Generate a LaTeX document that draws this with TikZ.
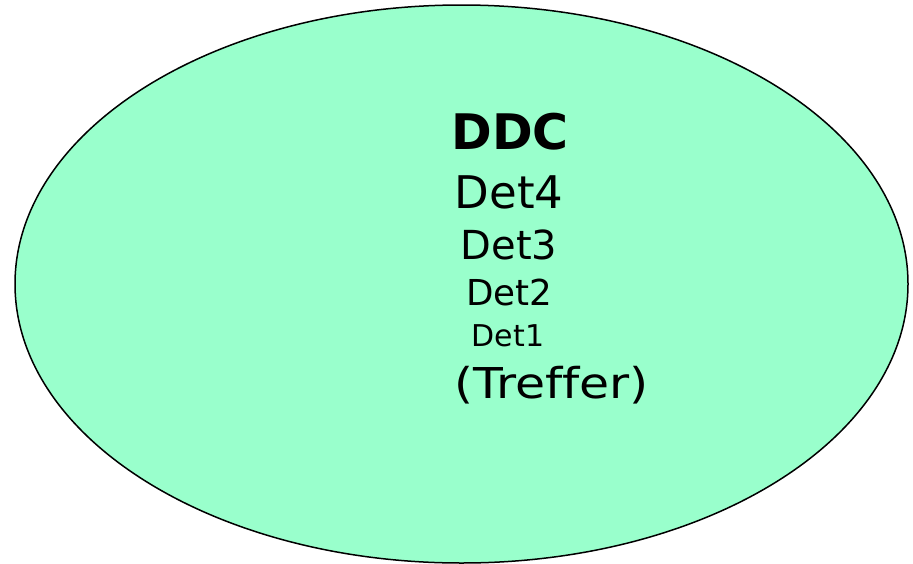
\documentclass[tikz,border=0pt]{standalone}
\usepackage{fontspec}
\usepackage{graphicx}
\usetikzlibrary{shapes.geometric}
\setmainfont{DejaVu Sans}[Ligatures=NoCommon]
\definecolor{mint}{HTML}{99FFCC}
\tikzset{lbl/.style={anchor=base,inner sep=0pt,text=black}}
\begin{document}
\begin{tikzpicture}[x=1pt,y=-1pt]
\useasboundingbox (0,0) rectangle (913,563);
\node[draw=black,line width=1.5pt,fill=mint,ellipse,minimum width=893pt,minimum height=558pt,inner sep=0pt] (e) at (461.5,284) {};
\node[lbl] (ddc) at (510,149) {\fontsize{49}{50}\selectfont\bfseries DDC};
\node[lbl] (d4) at (509,208) {\fontsize{45}{46}\selectfont Det4};
\node[lbl] (d3) at (509,259) {\fontsize{40}{41}\selectfont Det3};
\node[lbl] (d2) at (509.5,305) {\fontsize{35.7}{36}\selectfont Det2};
\node[lbl] (d1) at (508,346) {\fontsize{30}{31}\selectfont Det1};
\node[lbl] (tr) at (551.5,398) {\scalebox{1.15}[1]{\fontsize{42.5}{43}\selectfont (Treffer)}};
\end{tikzpicture}
\end{document}
